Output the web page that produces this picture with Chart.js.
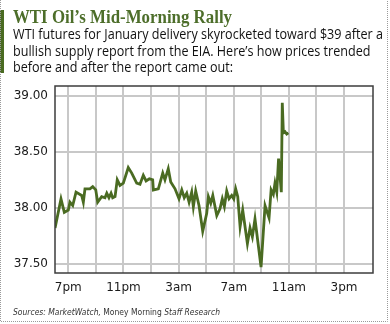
<!DOCTYPE html>
<html>
<head>
<meta charset="utf-8">
<script src="https://cdn.jsdelivr.net/npm/chart.js@4/dist/chart.umd.min.js"></script>
<style>
  html, body { margin: 0; padding: 0; background: #fff; }
  #wrap { position: relative; width: 390px; height: 324px; }
  canvas { display: block; }
</style>
</head>
<body>
<div id="wrap"><canvas id="c" width="390" height="324"></canvas></div>
<script>
// Headline text
const titleText = "WTI Oil\u2019s Mid-Morning Rally";
const subtitleLines = [
  "WTI futures for January delivery skyrocketed toward $39 after a",
  "bullish supply report from the EIA. Here\u2019s how prices trended",
  "before and after the report came out:"
];
const sourceParts = [
  { text: "Sources: MarketWatch, ", italic: true },
  { text: "Money Morning ", italic: false },
  { text: "Staff Research", italic: true }
];

// Time of each quote in hours from the previous midnight (24 = midnight, 35 = 11am)
const hours = [
  18.04, 18.47, 18.71, 19.00, 19.12, 19.32, 19.56, 19.97, 20.09, 20.21,
  20.57, 20.77, 20.99, 21.13, 21.42, 21.66, 21.79, 21.95, 22.10, 22.22,
  22.39, 22.55, 22.75, 22.99, 23.35, 23.60, 23.96, 24.20, 24.44, 24.64,
  24.88, 25.12, 25.17, 25.53, 25.85, 26.01, 26.25, 26.43, 26.74, 27.03,
  27.23, 27.41, 27.59, 27.76, 27.95, 28.07, 28.24, 28.48, 28.75, 29.04,
  29.16, 29.33, 29.48, 29.77, 30.00, 30.17, 30.32, 30.49, 30.66, 30.85,
  31.00, 31.14, 31.29, 31.46, 31.65, 31.99, 32.18, 32.35, 32.54, 32.98,
  33.27, 33.56, 33.71, 33.87, 33.99, 34.12, 34.25, 34.45, 34.52, 34.60,
  34.72, 34.84, 34.96
];
// WTI January futures price, $ per barrel
const prices = [
  37.82, 38.08, 37.96, 37.98, 38.05, 38.02, 38.14, 38.11, 38.05, 38.17,
  38.17, 38.19, 38.16, 38.05, 38.10, 38.09, 38.13, 38.09, 38.13, 38.09,
  38.10, 38.25, 38.20, 38.22, 38.36, 38.31, 38.22, 38.21, 38.29, 38.24,
  38.26, 38.25, 38.16, 38.17, 38.31, 38.25, 38.35, 38.23, 38.17, 38.08,
  38.16, 38.09, 38.13, 38.05, 38.14, 38.01, 38.15, 38.02, 37.79, 37.95,
  38.10, 38.04, 38.11, 37.93, 37.99, 38.08, 38.01, 38.15, 38.08, 38.11,
  38.08, 38.17, 38.10, 37.83, 37.98, 37.68, 37.82, 37.74, 37.90, 37.47,
  38.02, 37.91, 38.16, 38.12, 38.22, 38.14, 38.44, 38.14, 38.94, 38.67,
  38.68, 38.66, 38.67
];

// Axis ticks
const gridHours = [19, 21, 23, 25, 27, 29, 31, 33, 35, 37, 39];
const labelHours = [19, 23, 27, 31, 35, 39];
const hourLabels = ["7pm", "11pm", "3am", "7am", "11am", "3pm"];
const priceTicks = [37.5, 38.0, 38.5, 39.0];

const GREEN = "#4a6b22";

// Draws the headline block, the source note, the frame and the outer border
const decorations = {
  id: "decorations",
  afterDraw(chart) {
    const ctx = chart.ctx;
    const a = chart.chartArea;
    ctx.save();

    // plot frame
    ctx.strokeStyle = "#3c3c3c";
    ctx.lineWidth = 1.5;
    ctx.strokeRect(a.left, a.top, a.right - a.left, a.bottom - a.top);

    // green accent bar
    ctx.fillStyle = GREEN;
    ctx.fillRect(0, 10, 4, 63);

    // title
    ctx.textBaseline = "alphabetic";
    ctx.textAlign = "left";
    ctx.fillStyle = "#4d6e2a";
    ctx.font = "bold 18px 'Liberation Serif', serif";
    ctx.fillText(titleText, 13, 23, 219);

    // subtitle, squeezed uniformly to the column width
    ctx.fillStyle = "#111";
    ctx.font = "14px 'Open Sans', sans-serif";
    const sx = 370 / ctx.measureText(subtitleLines[0]).width;
    const baselines = [39, 56, 72];
    subtitleLines.forEach((line, i) => {
      ctx.save();
      ctx.translate(13, baselines[i]);
      ctx.scale(sx, 1);
      ctx.fillText(line, 0, 0);
      ctx.restore();
    });

    // source note
    ctx.fillStyle = "#333";
    const srcFont = (it) => (it ? "italic " : "") + "9px 'DejaVu Sans', sans-serif";
    let total = 0;
    sourceParts.forEach(p => { ctx.font = srcFont(p.italic); total += ctx.measureText(p.text).width; });
    const ss = 207 / total;
    ctx.save();
    ctx.translate(13, 315);
    ctx.scale(ss, 1);
    let x = 0;
    sourceParts.forEach(p => {
      ctx.font = srcFont(p.italic);
      ctx.fillText(p.text, x, 0);
      x += ctx.measureText(p.text).width;
    });
    ctx.restore();

    // outer border
    ctx.strokeStyle = "#9a9a9a";
    ctx.lineWidth = 1;
    ctx.setLineDash([1, 1]);
    ctx.beginPath();
    ctx.moveTo(0.5, 0);
    ctx.lineTo(0.5, 321.5);
    ctx.lineTo(387.5, 321.5);
    ctx.lineTo(387.5, 0);
    ctx.stroke();

    ctx.restore();
  }
};

new Chart(document.getElementById("c"), {
  type: "line",
  data: {
    datasets: [{
      data: hours.map((h, i) => ({ x: h, y: prices[i] })),
      borderColor: GREEN,
      borderWidth: 2.8,
      pointRadius: 0,
      tension: 0,
      fill: false
    }]
  },
  options: {
    responsive: false,
    animation: false,
    devicePixelRatio: 1,
    layout: { padding: { left: 0, right: 17, top: 86, bottom: 21 } },
    plugins: { legend: { display: false }, tooltip: { enabled: false } },
    scales: {
      x: {
        type: "linear",
        min: 18.035,
        max: 41.1,
        afterBuildTicks(scale) { scale.ticks = gridHours.map(v => ({ value: v })); },
        afterFit(scale) { scale.height = 30; },
        grid: { color: "#c8c8c8", lineWidth: 2, drawTicks: false },
        border: { display: false },
        ticks: {
          padding: 8,
          maxRotation: 0,
          autoSkip: false,
          color: "#1a1a1a",
          font: { family: "'DejaVu Sans', sans-serif", size: 12 },
          callback(v) {
            const i = labelHours.indexOf(v);
            return i >= 0 ? hourLabels[i] : "";
          }
        }
      },
      y: {
        min: 37.4167,
        max: 39.0895,
        afterBuildTicks(scale) { scale.ticks = priceTicks.map(v => ({ value: v })); },
        afterFit(scale) { scale.width = 55; },
        grid: { color: "#c8c8c8", lineWidth: 2, drawTicks: false },
        border: { display: false },
        ticks: {
          padding: 7,
          color: "#1a1a1a",
          font: { family: "'DejaVu Sans', sans-serif", size: 12 },
          callback(v) { return v.toFixed(2); }
        }
      }
    }
  },
  plugins: [decorations]
});
</script>
</body>
</html>
